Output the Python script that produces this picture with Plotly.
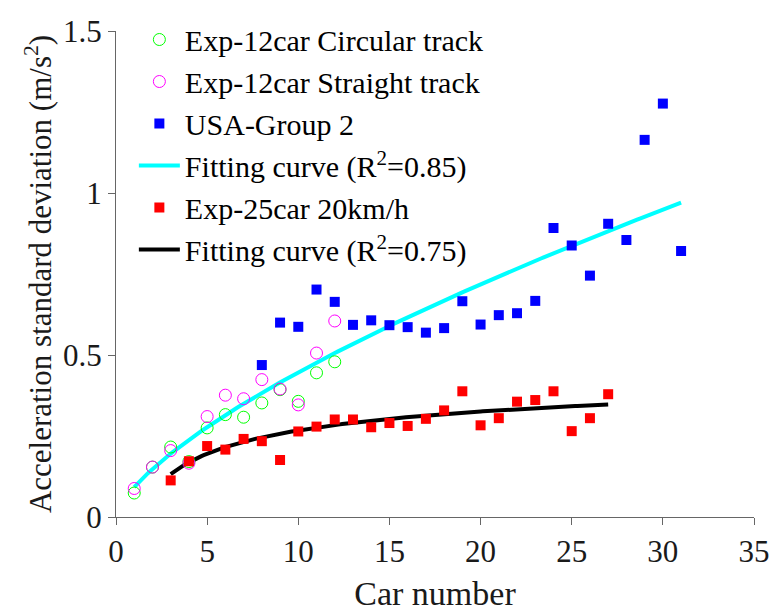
import numpy as np
import plotly.graph_objects as go

# Exp-12car, circular track
circ_x = [1, 2, 3, 4, 5, 6, 7, 8, 9, 10, 11, 12]
circ_y = [0.074, 0.154, 0.216, 0.171, 0.275, 0.316, 0.308, 0.352, 0.393, 0.357, 0.445, 0.479]

# Exp-12car, straight track
straight_x = [1, 2, 3, 4, 5, 6, 7, 8, 9, 10, 11, 12]
straight_y = [0.088, 0.154, 0.205, 0.166, 0.310, 0.376, 0.365, 0.424, 0.395, 0.346, 0.506, 0.605]

# USA-Group 2
usa_x = list(range(8, 32))
usa_y = [0.469, 0.600, 0.587, 0.702, 0.664, 0.593, 0.607, 0.592, 0.586, 0.569, 0.583, 0.666,
         0.594, 0.623, 0.629, 0.667, 0.892, 0.838, 0.745, 0.905, 0.855, 1.164, 1.276, 0.821]

# Exp-25car at 20 km/h
exp25_x = list(range(3, 28))
exp25_y = [0.113, 0.172, 0.219, 0.208, 0.241, 0.234, 0.176, 0.264, 0.279, 0.301, 0.301, 0.277,
           0.290, 0.281, 0.303, 0.329, 0.388, 0.283, 0.305, 0.356, 0.361, 0.388, 0.265, 0.305, 0.379]

# Fitted curves: power law y = a*x^b, and y = c - d*x^(-p)
fit1_a, fit1_b, fit1_range = 0.092, 0.686, (1, 31)
fit2_c, fit2_d, fit2_p, fit2_range = 0.578, 0.62, 0.3, (3, 27)

fit1_x = np.linspace(*fit1_range, 200)
fit1_y = fit1_a * fit1_x ** fit1_b
fit2_x = np.linspace(*fit2_range, 200)
fit2_y = fit2_c - fit2_d * fit2_x ** (-fit2_p)

FONT = "Liberation Serif, Times New Roman, serif"

fig = go.Figure()

fig.add_trace(go.Scatter(x=fit1_x, y=fit1_y, mode="lines", name="Fitting curve (R<sup>2</sup>=0.85)",
                         line=dict(color="#00ffff", width=4), legendrank=4))
fig.add_trace(go.Scatter(x=fit2_x, y=fit2_y, mode="lines", name="Fitting curve (R<sup>2</sup>=0.75)",
                         line=dict(color="#000000", width=4), legendrank=6))
fig.add_trace(go.Scatter(x=circ_x, y=circ_y, mode="markers", name="Exp-12car Circular track",
                         marker=dict(symbol="circle-open", size=12, color="#00ff00", line=dict(width=1)),
                         legendrank=1))
fig.add_trace(go.Scatter(x=straight_x, y=straight_y, mode="markers", name="Exp-12car Straight track",
                         marker=dict(symbol="circle-open", size=12, color="#ff00ff", line=dict(width=1)),
                         legendrank=2))
fig.add_trace(go.Scatter(x=usa_x, y=usa_y, mode="markers", name="USA-Group 2",
                         marker=dict(symbol="square", size=10, color="#0000ff", line=dict(width=0)),
                         legendrank=3))
fig.add_trace(go.Scatter(x=exp25_x, y=exp25_y, mode="markers", name="Exp-25car 20km/h",
                         marker=dict(symbol="square", size=10, color="#ff0000", line=dict(width=0)),
                         legendrank=5))

fig.update_layout(
    width=769, height=613,
    margin=dict(l=116, r=15, t=31, b=96),
    paper_bgcolor="white", plot_bgcolor="white",
    font=dict(family=FONT, size=31, color="#1a1a1a"),
    showlegend=True,
    legend=dict(x=0.028, y=1.036, xanchor="left", yanchor="top", bgcolor="rgba(0,0,0,0)",
                font=dict(family=FONT, size=30, color="#000000"), itemwidth=41,
                tracegroupgap=0),
    xaxis=dict(range=[0, 35], dtick=5, tick0=0, showgrid=False, zeroline=False,
               showline=True, linecolor="#666666", linewidth=1,
               ticks="outside", ticklen=7, tickcolor="#666666",
               ticklabeloverflow="allow", automargin=False,
               title=dict(text="Car number", font=dict(size=34), standoff=12)),
    yaxis=dict(range=[0, 1.5], dtick=0.5, tick0=0, showgrid=False, zeroline=False,
               showline=True, linecolor="#666666", linewidth=1,
               ticks="outside", ticklen=7, tickcolor="#666666",
               ticklabeloverflow="allow", automargin=False,
               title=dict(text="Acceleration standard deviation (m/s<sup>2</sup>)", font=dict(size=31), standoff=2)),
)

fig.write_html("out.html")
